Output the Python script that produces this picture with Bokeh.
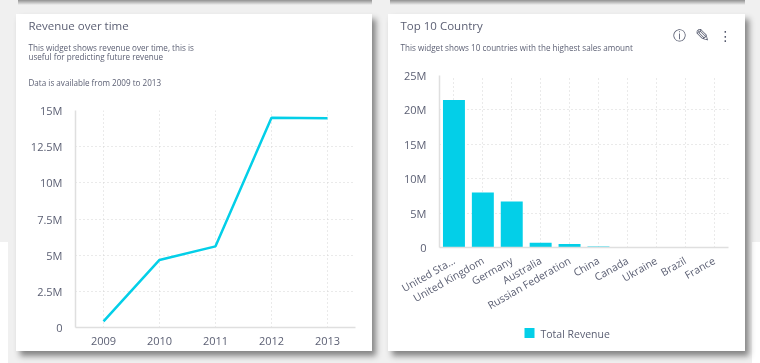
from bokeh.embed import file_html
from bokeh.resources import INLINE
from bokeh.plotting import figure
from bokeh.layouts import row, column, Spacer
from bokeh.models import FixedTicker, InlineStyleSheet, Range1d
from bokeh.core.properties import value

years = ["2009", "2010", "2011", "2012", "2013"]
revenue = [0.42e6, 4.67e6, 5.61e6, 14.5e6, 14.46e6]
rev_ticks = [0, 2.5e6, 5e6, 7.5e6, 10e6, 12.5e6, 15e6]
rev_labels = ["0", "2.5M", "5M", "7.5M", "10M", "12.5M", "15M"]

countries = ["United Sta...", "United Kingdom", "Germany", "Australia", "Russian Federation",
             "China", "Canada", "Ukraine", "Brazil", "France"]
country_rev = [21.45e6, 8.0e6, 6.7e6, 0.7e6, 0.5e6, 0.15e6, 0.03e6, 0.02e6, 0.02e6, 0.01e6]
cty_ticks = [0, 5e6, 10e6, 15e6, 20e6, 25e6]
cty_labels = ["0", "5M", "10M", "15M", "20M", "25M"]

FONT = "Open Sans"
TEXT = "#5b5f73"
ICON = "#555a6e"
CYAN = "#03cfe8"
GRID = "#d4d4d4"
AXIS = "#dfdfdf"
BG = "#f0f0f0"
CARD_STYLE = {"box-shadow": "4px 5px 6px rgba(0,0,0,0.45)", "background": "white"}
H = 337


def style(p, ticks, labels):
    p.outline_line_color = None
    p.background_fill_color = "white"
    p.border_fill_color = "white"
    p.yaxis.ticker = FixedTicker(ticks=ticks)
    p.yaxis.major_label_overrides = {t: l for t, l in zip(ticks, labels)}
    for ax in (p.xaxis[0], p.yaxis[0]):
        ax.axis_line_color = AXIS
        ax.axis_line_width = 1.5
        ax.major_tick_line_color = None
        ax.minor_tick_line_color = None
        ax.major_label_text_font = FONT
        ax.major_label_text_color = TEXT
        ax.major_label_text_font_size = "11px"
    p.yaxis[0].major_label_standoff = 7
    p.xaxis[0].major_label_standoff = 3
    for g in (p.xgrid[0], p.ygrid[0]):
        g.grid_line_color = GRID
        g.grid_line_dash = "1 3"
        g.grid_line_width = 1


def panel(w, top, bottom):
    """A blank white strip whose axes count pixels from the card's top-left corner."""
    p = figure(width=w, height=bottom - top, x_range=Range1d(0, w), y_range=Range1d(bottom, top),
               output_backend="svg", toolbar_location=None, frame_align=False,
               min_border_left=0, min_border_right=0, min_border_top=0, min_border_bottom=0)
    p.axis.visible = False
    p.grid.visible = False
    p.outline_line_color = None
    p.border_fill_color = "white"
    return p


def put(p, x, y, s, size="8.1px", color=TEXT, font=FONT, align="left", baseline="alphabetic"):
    p.text([x], [y], text=[s], text_font=value(font), text_font_size=value(size),
           text_color=color, text_align=align, text_baseline=baseline)


# left card
LW = 356
left_head = panel(LW, 0, 84)
put(left_head, 12, 11, "Revenue over time", "11.5px")
put(left_head, 12, 33, "This widget shows revenue over time, this is")
put(left_head, 12, 42, "useful for predicting future revenue")
put(left_head, 12, 68, "Data is available from 2009 to 2013")

left = figure(width=LW, height=H - 84, x_range=years, y_range=(0, 15e6),
              output_backend="svg", toolbar_location=None, frame_align=False,
              min_border_left=59, min_border_right=17, min_border_top=12, min_border_bottom=24)
style(left, rev_ticks, rev_labels)
left.line(years, revenue, line_color=CYAN, line_width=2.5)

# right card
RW = 357
right_head = panel(RW, 0, 49)
put(right_head, 12, 11, "Top 10 Country", "11.5px")
put(right_head, 12, 33, "This widget shows 10 countries with the highest sales amount")
put(right_head, 291, 21, "\u24d8", "13px", ICON, "DejaVu Sans", "center", "middle")
put(right_head, 314, 21, "\u270e", "18px", ICON, "DejaVu Sans", "center", "middle")
put(right_head, 337, 21, "\u22ee", "14px", ICON, "DejaVu Sans", "center", "middle")

right = figure(width=RW, height=307 - 49, x_range=countries, y_range=(0, 25e6),
               output_backend="svg", toolbar_location=None, frame_align=False,
               min_border_left=51, min_border_right=17, min_border_top=12, min_border_bottom=74)
style(right, cty_ticks, cty_labels)
right.xaxis[0].major_label_orientation = 0.52
right.xaxis[0].major_label_text_font_size = "10.5px"
right.xaxis[0].major_label_standoff = 6
right.vbar(x=countries, top=country_rev, width=0.76, fill_color=CYAN, line_color=None)

right_foot = panel(RW, 307, H)
right_foot.scatter([141], [318.5], marker="square", size=10, fill_color=CYAN, line_color=None)
put(right_foot, 152, 319.5, "Total Revenue", "10.5px", baseline="middle")

css = f"""
:host::before {{content:''; position:fixed; left:0; top:0; width:760px; height:242px; z-index:-1;
  background:
   linear-gradient(rgba(0,0,0,.4), rgba(0,0,0,0)) 18px 0/354px 5px no-repeat,
   linear-gradient(rgba(0,0,0,.4), rgba(0,0,0,0)) 390px 0/355px 5px no-repeat,
   {BG};}}
:host::after {{content:''; position:fixed; left:8px; top:242px; width:744px; height:121px; z-index:-1; background:{BG};}}
"""
page = column(Spacer(height=14),
              row(Spacer(width=16),
                  column(left_head, left, spacing=0, styles=CARD_STYLE),
                  Spacer(width=16),
                  column(right_head, right, right_foot, spacing=0, styles=CARD_STYLE)),
              stylesheets=[InlineStyleSheet(css=css)])
open("out.html", "w").write(file_html(page, INLINE))
